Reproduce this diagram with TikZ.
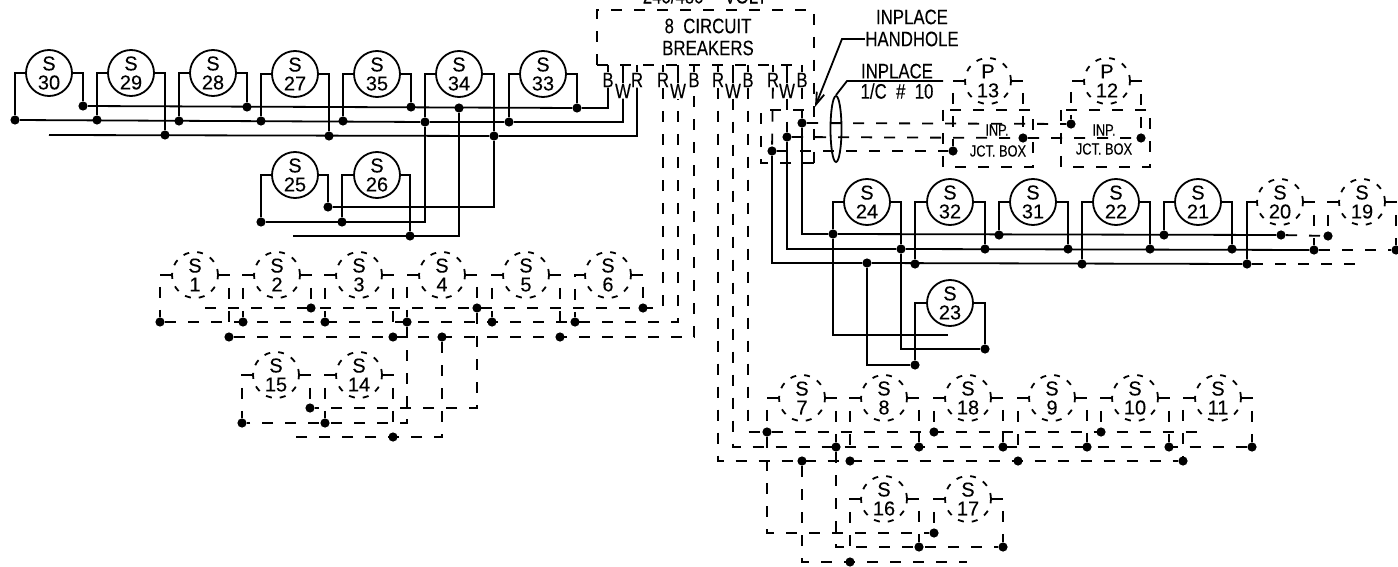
\documentclass[tikz,border=0pt]{standalone}
\usepackage{fontspec}
\usetikzlibrary{shapes.geometric,arrows.meta}
\setmainfont[FakeStretch=0.8,FakeBold=0.15]{Liberation Sans}
\newfontfamily\numfont[FakeBold=0.15]{Liberation Sans}
\tikzset{
  wire/.style={line width=0.9pt},
  dwire/.style={line width=0.9pt,dash pattern=on 5.5pt off 6pt},
  motor/.style={draw,circle,line width=0.9pt,minimum size=23pt,inner sep=0pt,align=center,font=\numfont\fontsize{10}{9.5}\selectfont},
  dmotor/.style={motor,dash pattern=on 3pt off 4pt},
  dot/.style={fill,circle,inner sep=0pt,minimum size=4.6pt},
  term/.style={inner sep=0pt,font=\fontsize{10.5}{10.5}\selectfont},
  note/.style={inner sep=0pt,align=center,font=\fontsize{10.5}{10.5}\selectfont},
  small/.style={inner sep=0pt,font=\fontsize{8}{8}\selectfont}
}
\begin{document}
\begin{tikzpicture}[x=0.5pt,y=-0.5pt]
  \useasboundingbox (0,0) rectangle (1398,567);

  % panou
  \coordinate (pa) at (597,10);
  \coordinate (pb) at (814,10);
  \coordinate (pc) at (597,65);
  \coordinate (pd) at (814,163);
  \coordinate (pe) at (802,65);
  \draw[dwire] (pc) -- (pa) -- (pb) -- (pd);
  \draw[dwire] (pc) -- (pe);
  \node[note] (volt) at (705,-4) {240/480\quad VOLT};
  \node[note] (brk) at (708,37) {8\ \ CIRCUIT\\[0.5pt]BREAKERS};

  % borne
  \node[term] (b1) at (608,80) {B};
  \node[term] (w1) at (623,91) {W};
  \node[term] (r1) at (637,80) {R};
  \node[term] (r2) at (663,80) {R};
  \node[term] (w2) at (678,91) {W};
  \node[term] (b2) at (694,80) {B};
  \node[term] (r3) at (718,80) {R};
  \node[term] (w3) at (733,91) {W};
  \node[term] (b3) at (748,80) {B};
  \node[term] (r4) at (773,80) {R};
  \node[term] (w4) at (787,91) {W};
  \node[term] (b4) at (802,80) {B};
  \draw[wire] (b1 |- pc) -- (b1);
  \draw[wire] (w1 |- pc) -- (w1);
  \draw[wire] (r1 |- pc) -- (r1);
  \draw[wire] (r2 |- pc) -- (r2);
  \draw[wire] (w2 |- pc) -- (w2);
  \draw[wire] (b2 |- pc) -- (b2);
  \draw[wire] (r3 |- pc) -- (r3);
  \draw[wire] (w3 |- pc) -- (w3);
  \draw[wire] (b3 |- pc) -- (b3);
  \draw[wire] (r4 |- pc) -- (r4);
  \draw[wire] (w4 |- pc) -- (w4);
  \draw[wire] (b4 |- pc) -- (b4);

  % grupa de sus
  \node[motor] (s30) at (49,73) {S\\30};
  \node[motor] (s29) at (131,73) {S\\29};
  \node[motor] (s28) at (213,73) {S\\28};
  \node[motor] (s27) at (295,74) {S\\27};
  \node[motor] (s35) at (377,74) {S\\35};
  \node[motor] (s34) at (459,74) {S\\34};
  \node[motor] (s33) at (543,74) {S\\33};
  \node[motor] (s25) at (295,175) {S\\25};
  \node[motor] (s26) at (377,175) {S\\26};
  \node[dot] (d30a) at (15,120) {};
  \node[dot] (d30b) at (83,106) {};
  \node[dot] (d29a) at (97,120) {};
  \node[dot] (d29b) at (165,135) {};
  \node[dot] (d28a) at (179,121) {};
  \node[dot] (d28b) at (247,107) {};
  \node[dot] (d27a) at (261,121) {};
  \node[dot] (d27b) at (329,136) {};
  \node[dot] (d35a) at (343,121) {};
  \node[dot] (d35b) at (411,107) {};
  \node[dot] (d34a) at (425,122) {};
  \node[dot] (d34b) at (494,136) {};
  \node[dot] (d34c) at (459,108) {};
  \node[dot] (d33a) at (509,122) {};
  \node[dot] (d33b) at (577,108) {};
  \node[dot] (d25a) at (261,222) {};
  \node[dot] (d25b) at (328,207) {};
  \node[dot] (d26a) at (342,222) {};
  \node[dot] (d26b) at (410,236) {};
  \coordinate (l1) at (49,135);
  \coordinate (l2) at (293,236);
  \draw[wire] (s30.west) -| (d30a);
  \draw[wire] (s30.east) -| (d30b);
  \draw[wire] (s29.west) -| (d29a);
  \draw[wire] (s29.east) -| (d29b);
  \draw[wire] (s28.west) -| (d28a);
  \draw[wire] (s28.east) -| (d28b);
  \draw[wire] (s27.west) -| (d27a);
  \draw[wire] (s27.east) -| (d27b);
  \draw[wire] (s35.west) -| (d35a);
  \draw[wire] (s35.east) -| (d35b);
  \draw[wire] (s34.west) -| (d34a);
  \draw[wire] (s34.east) -| (d34b);
  \draw[wire] (s33.west) -| (d33a);
  \draw[wire] (s33.east) -| (d33b);
  \draw[wire] (s25.west) -| (d25a);
  \draw[wire] (s25.east) -| (d25b);
  \draw[wire] (s26.west) -| (d26a);
  \draw[wire] (s26.east) -| (d26b);
  \draw[wire] (d30b) -- (d33b) -| (b1);
  \draw[wire] (d30a) -- (d34a) -- (d33a) -| (w1);
  \draw[wire] (l1) -- (d34b) -| (r1);
  \draw[wire] (d34a) |- (d25a);
  \draw[wire] (d34b) |- (d25b);
  \draw[wire] (d34c) |- (l2);

  % grupa din dreapta
  \node[motor] (s24) at (867,202) {S\\24};
  \node[motor] (s32) at (950,202) {S\\32};
  \node[motor] (s31) at (1033,202) {S\\31};
  \node[motor] (s22) at (1116,202) {S\\22};
  \node[motor] (s21) at (1198,202) {S\\21};
  \node[dmotor] (s20) at (1280,202) {S\\20};
  \node[dmotor] (s19) at (1362,202) {S\\19};
  \node[motor] (s23) at (950,303) {S\\23};
  \node[dot] (h1) at (802,123) {};
  \node[dot] (h2) at (787,137) {};
  \node[dot] (h3) at (772,151) {};
  \node[dot] (d24a) at (833,234) {};
  \node[dot] (d24b) at (901,249) {};
  \node[dot] (d24c) at (867,263) {};
  \node[dot] (d32a) at (915,264) {};
  \node[dot] (d32b) at (985,249) {};
  \node[dot] (d31a) at (999,235) {};
  \node[dot] (d31b) at (1068,249) {};
  \node[dot] (d22a) at (1082,264) {};
  \node[dot] (d22b) at (1150,249) {};
  \node[dot] (d21a) at (1164,235) {};
  \node[dot] (d21b) at (1232,249) {};
  \node[dot] (d20a) at (1247,264) {};
  \node[dot] (d20b) at (1314,250) {};
  \node[dot] (d20c) at (1281,235) {};
  \node[dot] (d19a) at (1328,236) {};
  \node[dot] (d19b) at (1396,250) {};
  \node[dot] (d23a) at (915,365) {};
  \node[dot] (d23b) at (985,349) {};
  \coordinate (l3) at (1362,264);
  \coordinate (l4) at (948,335);
  \draw[wire] (s24.west) -| (d24a);
  \draw[wire] (s24.east) -| (d24b);
  \draw[wire] (s32.west) -| (d32a);
  \draw[wire] (s32.east) -| (d32b);
  \draw[wire] (s31.west) -| (d31a);
  \draw[wire] (s31.east) -| (d31b);
  \draw[wire] (s22.west) -| (d22a);
  \draw[wire] (s22.east) -| (d22b);
  \draw[wire] (s21.west) -| (d21a);
  \draw[wire] (s21.east) -| (d21b);
  \draw[wire] (s20.west) -| (d20a);
  \draw[dwire] (s20.east) -| (d20b);
  \draw[dwire] (s19.west) -| (d19a);
  \draw[dwire] (s19.east) -| (d19b);
  \draw[wire] (s23.west) -| (d23a);
  \draw[wire] (s23.east) -| (d23b);
  \draw[wire] (h1) |- (d24a) -- (d20c);
  \draw[wire] (h2) |- (d24b) -- (d20b);
  \draw[wire] (h3) |- (d24c) -- (d20a);
  \draw[dwire] (d20c) -- (d19a);
  \draw[dwire] (d20b) -- (d19b);
  \draw[dwire] (d20a) -- (l3);
  \draw[wire] (d24a) |- (l4);
  \draw[wire] (d24b) |- (d23b);
  \draw[wire] (d24c) |- (d23a);

  % cutia de trecere si legaturile spre P
  \coordinate (ha) at (761,110);
  \coordinate (hb) at (761,163);
  \draw[dwire] (pd) -- (hb) -- (ha) -- (pd |- ha);
  \draw[dwire] (b4) -- (h1);
  \draw[dwire] (w4) -- (h2);
  \draw[dwire] (r4) -- (h3);
  \node[draw,wire,ellipse,inner sep=0pt,minimum width=5.5pt,minimum height=33pt] (cable) at (836,129) {};
  \node[dmotor] (p13) at (988,81) {P\\13};
  \node[dmotor] (p12) at (1107,81) {P\\12};
  \node[dot] (j1) at (953,151) {};
  \node[dot] (j2) at (1023,138) {};
  \node[dot] (j3) at (1071,124) {};
  \node[dot] (j4) at (1141,138) {};
  \draw[dwire] (p13.west) -| (j1);
  \draw[dwire] (p13.east) -| (j2);
  \draw[dwire] (p12.west) -| (j3);
  \draw[dwire] (p12.east) -| (j4);
  \draw[dwire] (h1) -- (j3);
  \draw[dwire] (h2) -- (j2) -- (j4);
  \draw[dwire] (h3) -- (j1);
  \coordinate (ba) at (943,110);
  \coordinate (bb) at (1033,167);
  \coordinate (bc) at (1061,110);
  \coordinate (bd) at (1150,167);
  \draw[dwire] (ba) rectangle (bb);
  \draw[dwire] (bc) rectangle (bd);
  \node[small] (inp1) at (997,130) {INP.};
  \node[small] (jct1) at (998,151) {JCT. BOX};
  \node[small] (inp2) at (1104,130) {INP.};
  \node[small] (jct2) at (1104,149) {JCT. BOX};

  % note
  \node[note] (hand) at (912,28) {INPLACE\\[0.5pt]HANDHOLE};
  \node[note,anchor=south] (inpl) at (897,79) {INPLACE};
  \node[note,anchor=north] (cond) at (897,83) {1/C\ \ \#\ \ 10};
  \coordinate (n1) at (847,81);
  \coordinate (n2) at (943,81);
  \coordinate (n3) at (842,39);
  \coordinate (n4) at (815,107);
  \draw[wire] (n2) -- (n1) -- (cable.north);
  \draw[wire,-{Straight Barb[length=6pt,width=4pt]}] (hand.west |- n3) -- (n3) -- (n4);

  % grupa S1 - S6
  \node[dmotor] (s1) at (195,275) {S\\1};
  \node[dmotor] (s2) at (277,275) {S\\2};
  \node[dmotor] (s3) at (359,275) {S\\3};
  \node[dmotor] (s4) at (442,275) {S\\4};
  \node[dmotor] (s5) at (526,275) {S\\5};
  \node[dmotor] (s6) at (608,275) {S\\6};
  \node[dmotor] (s15) at (276,375) {S\\15};
  \node[dmotor] (s14) at (359,375) {S\\14};
  \node[dot] (d1a) at (160,322) {};
  \node[dot] (d1b) at (229,337) {};
  \node[dot] (d2a) at (243,322) {};
  \node[dot] (d2b) at (311,308) {};
  \node[dot] (d3a) at (325,322) {};
  \node[dot] (d3b) at (393,337) {};
  \node[dot] (d4a) at (407,322) {};
  \node[dot] (d4b) at (477,308) {};
  \node[dot] (d4c) at (442,337) {};
  \node[dot] (d5a) at (492,322) {};
  \node[dot] (d5b) at (560,337) {};
  \node[dot] (d6a) at (575,322) {};
  \node[dot] (d6b) at (643,308) {};
  \node[dot] (d15a) at (242,423) {};
  \node[dot] (d15b) at (310,408) {};
  \node[dot] (d14a) at (325,423) {};
  \node[dot] (d14b) at (393,437) {};
  \coordinate (l5) at (205,308);
  \coordinate (l6) at (289,437);
  \draw[dwire] (s1.west) -| (d1a);
  \draw[dwire] (s1.east) -| (d1b);
  \draw[dwire] (s2.west) -| (d2a);
  \draw[dwire] (s2.east) -| (d2b);
  \draw[dwire] (s3.west) -| (d3a);
  \draw[dwire] (s3.east) -| (d3b);
  \draw[dwire] (s4.west) -| (d4a);
  \draw[dwire] (s4.east) -| (d4b);
  \draw[dwire] (s5.west) -| (d5a);
  \draw[dwire] (s5.east) -| (d5b);
  \draw[dwire] (s6.west) -| (d6a);
  \draw[dwire] (s6.east) -| (d6b);
  \draw[dwire] (s15.west) -| (d15a);
  \draw[dwire] (s15.east) -| (d15b);
  \draw[dwire] (s14.west) -| (d14a);
  \draw[dwire] (s14.east) -| (d14b);
  \draw[dwire] (l5) -| (r2);
  \draw[dwire] (d1a) -| (w2);
  \draw[dwire] (d1b) -| (b2);
  \draw[dwire] (d4a) |- (d15a);
  \draw[dwire] (d4b) |- (d15b);
  \draw[dwire] (d4c) |- (l6);

  % grupa S7 - S18
  \node[dmotor] (s7) at (802,398) {S\\7};
  \node[dmotor] (s8) at (884,398) {S\\8};
  \node[dmotor] (s18) at (968,398) {S\\18};
  \node[dmotor] (s9) at (1052,398) {S\\9};
  \node[dmotor] (s10) at (1135,398) {S\\10};
  \node[dmotor] (s11) at (1218,398) {S\\11};
  \node[dmotor] (s16) at (884,499) {S\\16};
  \node[dmotor] (s17) at (968,499) {S\\17};
  \node[dot] (d7a) at (767,432) {};
  \node[dot] (d7b) at (836,447) {};
  \node[dot] (d7c) at (802,461) {};
  \node[dot] (d8a) at (850,461) {};
  \node[dot] (d8b) at (919,447) {};
  \node[dot] (d18a) at (934,432) {};
  \node[dot] (d18b) at (1003,447) {};
  \node[dot] (d9a) at (1018,461) {};
  \node[dot] (d9b) at (1087,447) {};
  \node[dot] (d10a) at (1101,432) {};
  \node[dot] (d10b) at (1169,447) {};
  \node[dot] (d11a) at (1183,461) {};
  \node[dot] (d11b) at (1252,447) {};
  \node[dot] (d16a) at (850,562) {};
  \node[dot] (d16b) at (919,547) {};
  \node[dot] (d17a) at (934,533) {};
  \node[dot] (d17b) at (1003,547) {};
  \coordinate (l7) at (1199,432);
  \coordinate (l8) at (967,562);
  \draw[dwire] (s7.west) -| (d7a);
  \draw[dwire] (s7.east) -| (d7b);
  \draw[dwire] (s8.west) -| (d8a);
  \draw[dwire] (s8.east) -| (d8b);
  \draw[dwire] (s18.west) -| (d18a);
  \draw[dwire] (s18.east) -| (d18b);
  \draw[dwire] (s9.west) -| (d9a);
  \draw[dwire] (s9.east) -| (d9b);
  \draw[dwire] (s10.west) -| (d10a);
  \draw[dwire] (s10.east) -| (d10b);
  \draw[dwire] (s11.west) -| (d11a);
  \draw[dwire] (s11.east) -| (d11b);
  \draw[dwire] (s16.west) -| (d16a);
  \draw[dwire] (s16.east) -| (d16b);
  \draw[dwire] (s17.west) -| (d17a);
  \draw[dwire] (s17.east) -| (d17b);
  \draw[dwire] (b3) |- (l7);
  \draw[dwire] (w3) |- (d11b);
  \draw[dwire] (r3) |- (d11a);
  \draw[dwire] (d7a) |- (d17a);
  \draw[dwire] (d7b) |- (d17b);
  \draw[dwire] (d7c) |- (l8);
\end{tikzpicture}
\end{document}
